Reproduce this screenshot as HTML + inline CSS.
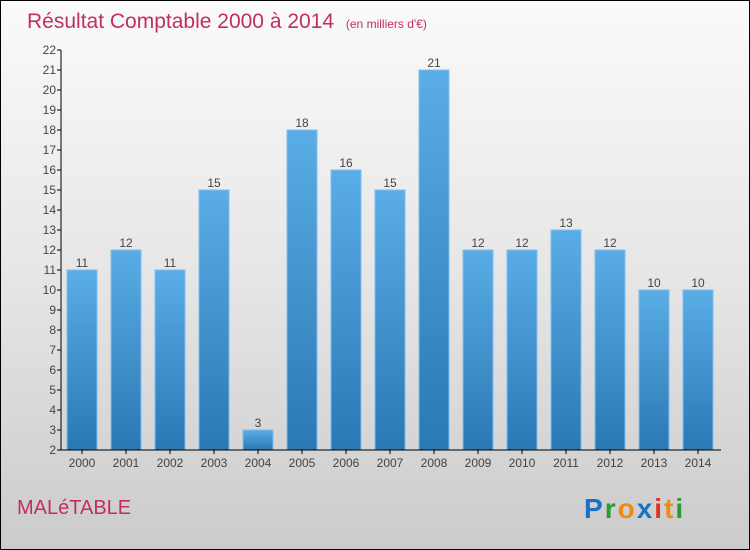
<!DOCTYPE html>
<html><head><meta charset="utf-8"><style>
body{margin:0}
#c{position:relative;width:748px;height:548px;border:1px solid #000;background:linear-gradient(#fafafa,#e6e6e6 50%,#cbcbcb);font-family:"Liberation Sans",sans-serif;overflow:hidden}
</style></head><body>
<div id="c">
<svg id="s" width="748" height="548" xmlns="http://www.w3.org/2000/svg">
<defs><linearGradient id="g" x1="0" y1="0" x2="0" y2="1"><stop offset="0" stop-color="#5aade6"/><stop offset="1" stop-color="#2a78b4"/></linearGradient></defs>
<text x="26" y="27" font-size="21" fill="#c0305f">Résultat Comptable 2000 à 2014 <tspan font-size="12" dx="6">(en milliers d'€)</tspan></text>
<text x="16" y="513" font-size="20" fill="#c0305f">MALéTABLE</text>
<g font-size="28" font-weight="bold" letter-spacing="2"><text x="583" y="517"><tspan fill="#1a72c8">P</tspan><tspan fill="#2a9a3a">r</tspan><tspan fill="#f08a10">o</tspan><tspan fill="#1a72c8">x</tspan><tspan fill="#e03020">i</tspan><tspan fill="#f08a10">t</tspan><tspan fill="#2a9a3a">i</tspan></text></g>
<g id="plot"></g>
</svg>
</div>
<script>
const categories=["2000","2001","2002","2003","2004","2005","2006","2007","2008","2009","2010","2011","2012","2013","2014"];
const values=[11,12,11,15,3,18,16,15,21,12,12,13,12,10,10];
const yTicks=[2,3,4,5,6,7,8,9,10,11,12,13,14,15,16,17,18,19,20,21,22];
const NS="http://www.w3.org/2000/svg";
const p=document.getElementById('plot');
const y=v=>449-(v-2)*20;
const x=i=>81+i*44;
function mk(t,a,par){const e=document.createElementNS(NS,t);for(const k in a)e.setAttribute(k,a[k]);(par||p).appendChild(e);return e;}
categories.forEach((c,i)=>{
 const r=mk('rect',{x:x(i)-15,y:y(values[i]),width:30,height:y(2)-y(values[i]),fill:'url(#g)',stroke:'#7cc0ee','stroke-width':1});
 
 
 const l=mk('text',{x:x(i),y:y(values[i])-3,'font-size':12,fill:'#444','text-anchor':'middle'});l.textContent=values[i];
 
 
 const t=mk('text',{x:x(i),y:466,'font-size':12,fill:'#444','text-anchor':'middle'});t.textContent=c;
 
 
 mk('line',{x1:x(i),x2:x(i),y1:449,y2:453,stroke:'#000'});
});
yTicks.forEach(v=>{
 mk('line',{x1:56,x2:60,y1:y(v),y2:y(v),stroke:'#000'});
 const t=mk('text',{x:55,y:y(v)+4,'font-size':12,fill:'#444','text-anchor':'end'});t.textContent=v;
 
 
});
const ya=mk('line',{x1:60,x2:60,y1:y(22),y2:449,stroke:'#000'});


const xa=mk('line',{x1:60,x2:720,y1:449,y2:449,stroke:'#000'});


</script>
</body></html>
